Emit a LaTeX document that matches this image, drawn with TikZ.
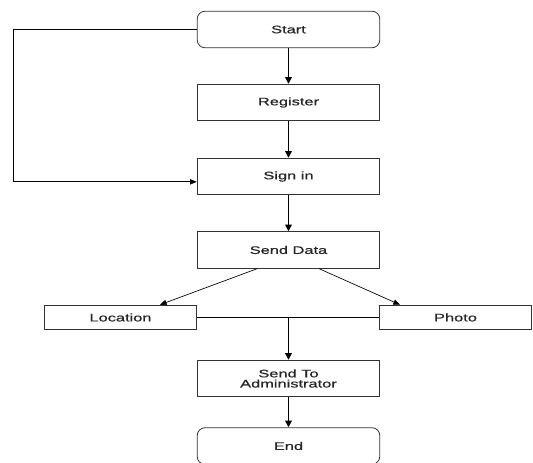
\documentclass[tikz,border=0pt]{standalone}
\usepackage{fontspec}
\setmainfont{Liberation Sans}
\newfontfamily\boxfont{Liberation Sans}[FakeStretch=1.5, FakeBold=0.6]
\usetikzlibrary{arrows.meta}

\begin{document}
\begin{tikzpicture}[
    x=0.75pt, y=-0.75pt,
    box/.style={draw=black!80, line width=0.6pt, fill=white, minimum width=137pt,
                minimum height=27.5pt, inner sep=1pt, align=center, text=black!85,
                font=\boxfont\fontsize{8.2}{7.6}\selectfont},
    roundbox/.style={box, rounded corners=6pt},
    sidebox/.style={box, minimum width=114.5pt, minimum height=18.5pt},
    flow/.style={-{Triangle[length=5pt,width=5pt]}, line width=0.9pt},
    link/.style={-{Triangle[length=5pt,width=4pt]}, line width=0.5pt}
    ]
    \useasboundingbox (0,0) rectangle (533,463);
    % main column
    \node[roundbox] (start)    at (288.5,29.5)  {Start};
    \node[box]      (register) at (288.5,102.5) {Register};
    \node[box]      (signin)   at (288.5,176.5) {Sign in};
    \node[box]      (senddata) at (288.5,250)   {Send Data};
    \node[sidebox]  (location) at (120.5,317.5) {Location};
    \node[sidebox]  (photo)    at (455.5,317.5) {Photo};
    \node[box]      (admin)    at (288.5,378.5) {Send To\\Administrator};
    \node[roundbox] (end)      at (288.5,446)   {End};

    \draw[flow] (start) -- (register);
    \draw[flow] (register) -- (signin);
    \draw[flow] (signin) -- (senddata);
    % loop back to sign in
    \draw[link] (start.west) -- ++(-183,0) |- ([yshift=-4pt]signin.west);
    % split and join
    \draw[link] ([xshift=-23.6pt]senddata.south) -- ([xshift=29.6pt]location.north);
    \draw[link] ([xshift=23pt]senddata.south) -- ([xshift=-41.6pt]photo.north);
    \draw[line width=0.5pt] (location.east) -- (photo.west);
    \draw[flow] (location.east -| admin.north) -- (admin.north);
    \draw[flow] (admin) -- (end);
\end{tikzpicture}
\end{document}
